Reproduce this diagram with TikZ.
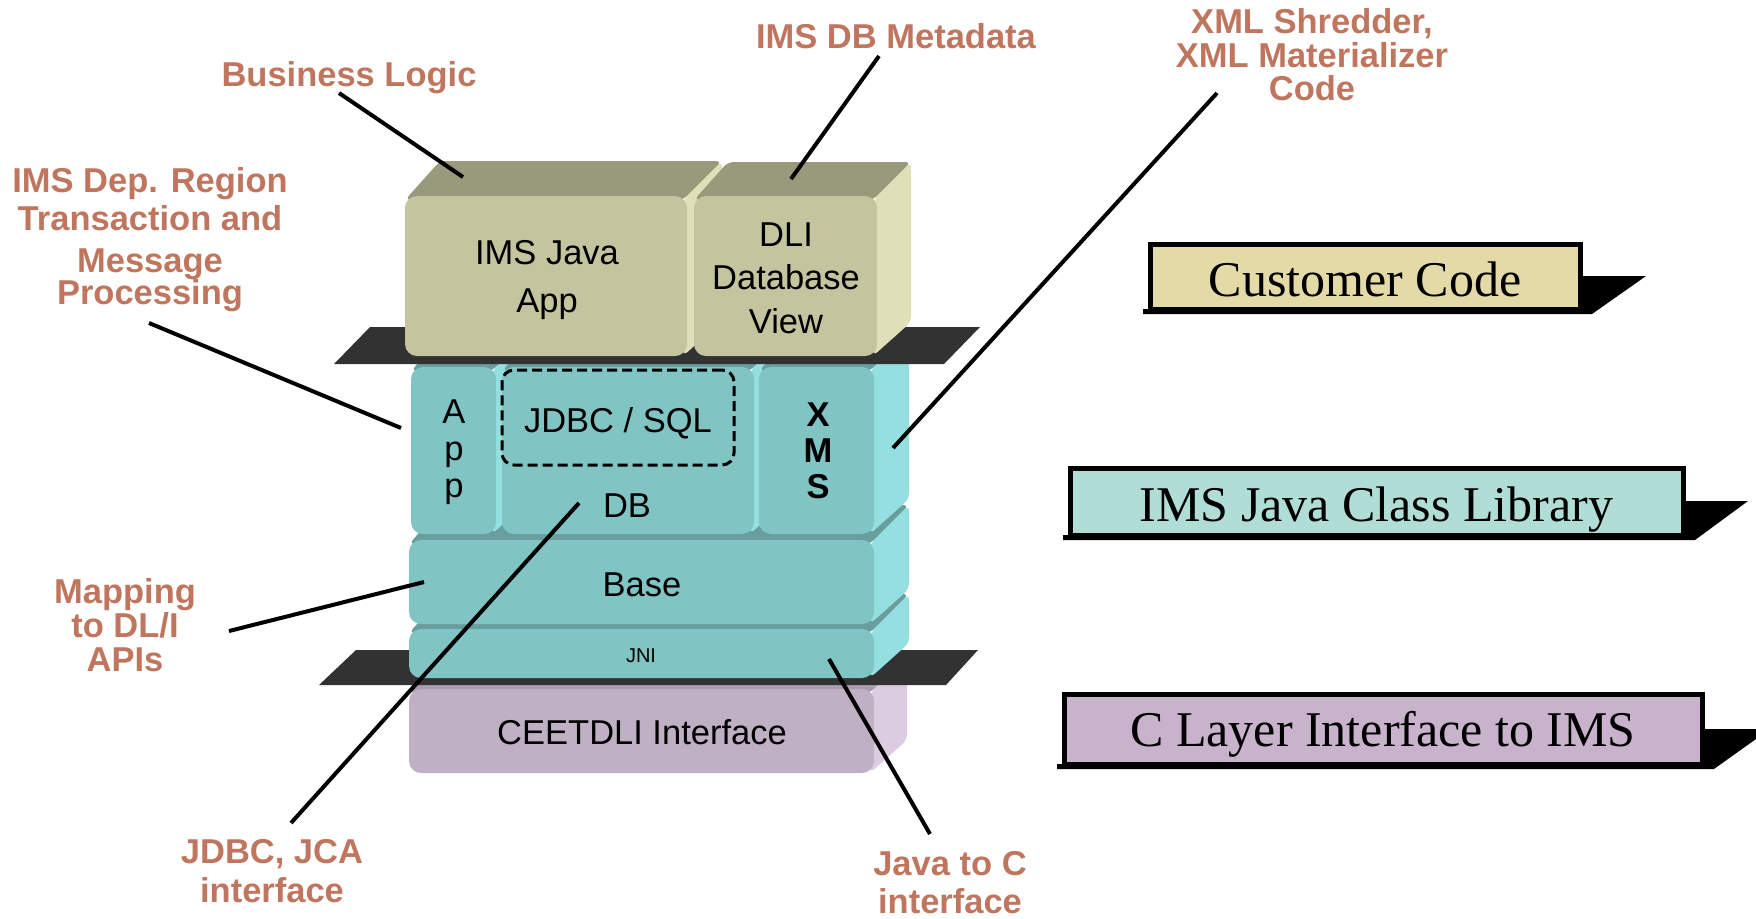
\documentclass[tikz,border=0pt]{standalone}
\usepackage{fontspec}
\setmainfont{Liberation Sans}
\newfontfamily\timesf{Liberation Serif}
\definecolor{lbl}{RGB}{192,118,94}
\definecolor{tealF}{RGB}{128,196,196}
\definecolor{tealS}{RGB}{148,224,224}
\definecolor{tealT}{RGB}{104,158,158}
\definecolor{yelF}{RGB}{196,196,158}
\definecolor{yelT}{RGB}{153,153,123}
\definecolor{yelS}{RGB}{224,224,184}
\definecolor{purF}{RGB}{191,176,196}
\definecolor{purS}{RGB}{220,204,224}
\definecolor{purT}{RGB}{170,156,176}
\definecolor{plate}{RGB}{50,50,50}
\definecolor{custC}{RGB}{227,218,168}
\definecolor{libC}{RGB}{176,222,214}
\definecolor{clayC}{RGB}{200,178,204}
\newcommand\prism[8]{%
  \fill[#7,rounded corners=3pt] (#1,#2+4) -- (#1+#5,#2-#5) -- (#3+#5,#2-#5) -- (#3-4,#2+4) -- cycle;
  \fill[#8,rounded corners=3pt] (#3-4,#2+4) -- (#3+#5,#2-#5) -- (#3+#5,#4-#5) -- (#3-4,#4) -- cycle;
  \fill[#6,rounded corners=6pt] (#1,#2) rectangle (#3,#4);
}
\newcommand\lowertxt[2]{\raisebox{-#1}[0pt][0pt]{#2}}
\begin{document}
\begin{tikzpicture}[x=0.5pt,y=-0.5pt,
  boxtxt/.style={font=\fontsize{17.25}{21}\selectfont, align=center, inner sep=0pt},
  lab/.style={text=lbl, font=\bfseries\fontsize{17.25}{17}\selectfont, align=center, inner sep=0pt},
  ptr/.style={line width=2pt},
  legbox/.style={draw=black, line width=2.5pt, inner sep=0pt, font=\timesf\fontsize{25}{30}\selectfont},
  platefill/.style={fill=plate}]
\useasboundingbox (0,0) rectangle (1756,918);

% ---- bottom: CEETDLI
\prism{409}{689}{874}{773}{33}{purF}{purT}{purS}
\node[boxtxt] (ceet) at (642,732) {CEETDLI Interface};
% lower plate
\fill[platefill] (319,685) -- (356,650) -- (978,650) -- (946,685) -- cycle;
% ---- teal stack
\prism{409}{629}{874}{678}{35}{tealF}{tealT}{tealS}
\node[boxtxt, font=\fontsize{10}{12}\selectfont] (jni) at (641,656) {JNI};
\prism{409}{540}{874}{624}{35}{tealF}{tealT}{tealS}
\node[boxtxt] (base) at (642,585) {Base};
\prism{411}{367}{496}{534}{35}{tealF}{tealT}{tealS}
\prism{502}{367}{754}{534}{35}{tealF}{tealT}{tealS}
\prism{759}{367}{874}{534}{35}{tealF}{tealT}{tealS}
\node[boxtxt, font=\fontsize{17.25}{18.5}\selectfont] (app) at (454,452) {A\\p\\p};
\node[boxtxt, font=\bfseries\fontsize{17.25}{18}\selectfont] (xms) at (818,451) {X\\M\\S};
\node[boxtxt] (db) at (627,506) {DB};
\node[boxtxt, draw=black, line width=1.5pt, dash pattern=on 5pt off 2.5pt, rounded corners=6pt,
      minimum width=116pt, minimum height=47.5pt] (jdbc) at (618,417.5) {\lowertxt{7.3pt}{JDBC / SQL}};
% top plate
\fill[platefill] (334,364) -- (370,327) -- (980,327) -- (944,364) -- cycle;
% ---- yellow boxes
\prism{405}{196}{687}{356}{35}{yelF}{yelT}{yelS}
\prism{694}{196}{877}{356}{34}{yelF}{yelT}{yelS}
\node[boxtxt, font=\fontsize{17.25}{24}\selectfont] (ijapp) at (547,280) {IMS Java\\App};
\node[boxtxt, font=\fontsize{17.25}{21.75}\selectfont] (dli) at (786,278) {DLI\\Database\\View};

% ---- legend boxes
\fill[black] (1143,314) -- (1592,314) -- (1646,276) -- (1582,276) -- (1582,309) -- (1143,309) -- cycle;
\node[legbox, fill=custC, minimum width=215pt, minimum height=32.5pt] (cust) at (1365,276.5) {\lowertxt{10pt}{Customer Code}};
\fill[black] (1063,540) -- (1695,540) -- (1748,501) -- (1685,501) -- (1685,535) -- (1063,535) -- cycle;
\node[legbox, fill=libC, minimum width=306.5pt, minimum height=33.5pt] (lib) at (1376.5,502) {\lowertxt{9.5pt}{IMS Java Class Library}};
\fill[black] (1057,769) -- (1714,769) -- (1770,729) -- (1704,729) -- (1704,764) -- (1057,764) -- cycle;
\node[legbox, fill=clayC, minimum width=319pt, minimum height=35pt] (clay) at (1383,729) {\lowertxt{8.6pt}{C Layer Interface to IMS}};

% ---- orange labels
\node[lab] (lbus) at (349,78) {Business Logic};
\node[lab] (lmeta) at (896,36) {IMS DB Metadata};
\node[lab, font=\bfseries\fontsize{17.25}{16.75}\selectfont] (lxml) at (1312,55) {XML Shredder,\\XML Materializer\\Code};
\node[lab, font=\bfseries\fontsize{17.25}{19}\selectfont] (ldep) at (150,240) {IMS Dep. Region\\Transaction and\\[2pt]Message\\[-3pt]Processing};
\node[lab] (lmap) at (125,625) {Mapping\\to DL/I\\APIs};
\node[lab, font=\bfseries\fontsize{17.25}{19.5}\selectfont] (ljdbc) at (272,871) {JDBC, JCA\\interface};
\node[lab, font=\bfseries\fontsize{17.25}{19}\selectfont] (ljava) at (950,883) {Java to C\\interface};

% ---- pointer ends
\coordinate (pbus1) at (339,93);   \coordinate (pbus2) at (463,177);
\coordinate (pmeta1) at (879,56);  \coordinate (pmeta2) at (791,179);
\coordinate (pxml1) at (1217,93);  \coordinate (pxml2) at (893,448);
\coordinate (pdep1) at (149,323);  \coordinate (pdep2) at (401,428);
\coordinate (pmap1) at (229,631);  \coordinate (pmap2) at (424,582);
\coordinate (pjdbc1) at (291,823); \coordinate (pjdbc2) at (579,503);
\coordinate (pjava1) at (930,834); \coordinate (pjava2) at (829,659);
\draw[ptr] (pbus1) -- (pbus2);
\draw[ptr] (pmeta1) -- (pmeta2);
\draw[ptr] (pxml1) -- (pxml2);
\draw[ptr] (pdep1) -- (pdep2);
\draw[ptr] (pmap1) -- (pmap2);
\draw[ptr] (pjdbc1) -- (pjdbc2);
\draw[ptr] (pjava1) -- (pjava2);
\end{tikzpicture}
\end{document}
